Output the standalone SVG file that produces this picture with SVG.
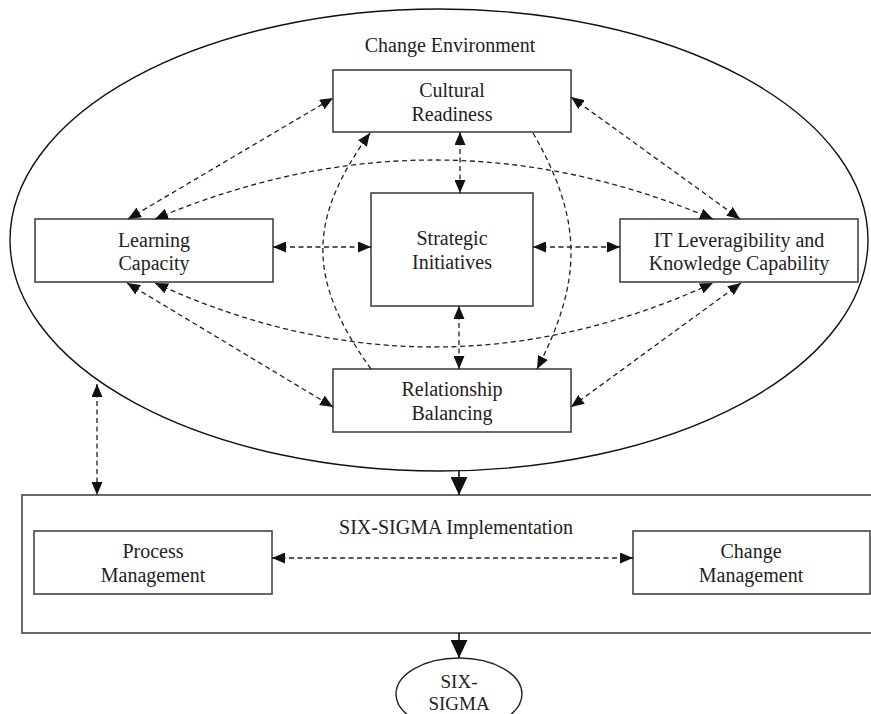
<svg xmlns="http://www.w3.org/2000/svg" width="871" height="714" viewBox="0 0 871 714">
<style>
.box{fill:#fff;stroke:#444;stroke-width:1.6}
.t{font-family:"Liberation Serif","Times New Roman",serif;font-size:20px;fill:#222;text-anchor:middle}
.ts{font-family:"Liberation Serif","Times New Roman",serif;font-size:19px;fill:#222;text-anchor:middle}
.d{fill:none;stroke:#222;stroke-width:1.3;stroke-dasharray:5 3.5}
.s{fill:none;stroke:#111;stroke-width:1.6}
</style>
<defs>
<marker id="ah" markerUnits="userSpaceOnUse" markerWidth="13" markerHeight="11" refX="13" refY="5.5" orient="auto-start-reverse"><path d="M0,0 L13,5.5 L0,11 z" fill="#111"/></marker>
<marker id="big" markerUnits="userSpaceOnUse" markerWidth="18" markerHeight="17" refX="18" refY="8.5" orient="auto"><path d="M0,0 L18,8.5 L0,17 z" fill="#111"/></marker>
</defs>
<rect width="871" height="714" fill="#fff"/>
<g id="change-environment">
<ellipse cx="439" cy="240" rx="429" ry="231" fill="none" stroke="#111" stroke-width="1.4"/>
<text class="t" x="450" y="52">Change Environment</text>
</g>
<g id="six-sigma-implementation">
<rect x="22" y="495" width="860" height="138" class="box"/>
<text class="t" x="456" y="534">SIX-SIGMA Implementation</text>
</g>
<g id="cultural-readiness">
<rect x="333" y="70" width="238" height="62" class="box"/>
<text class="t" x="452" y="97">Cultural</text>
<text class="t" x="452" y="121">Readiness</text>
</g>
<g id="learning-capacity">
<rect x="35" y="219" width="238" height="63" class="box"/>
<text class="t" x="154" y="247">Learning</text>
<text class="t" x="154" y="270">Capacity</text>
</g>
<g id="strategic-initiatives">
<rect x="371" y="193" width="162" height="113" class="box"/>
<text class="t" x="452" y="245">Strategic</text>
<text class="t" x="452" y="269">Initiatives</text>
</g>
<g id="it-leveragibility">
<rect x="620" y="219" width="238" height="63" class="box"/>
<text class="t" x="739" y="247">IT Leveragibility and</text>
<text class="t" x="739" y="270">Knowledge Capability</text>
</g>
<g id="relationship-balancing">
<rect x="333" y="369" width="238" height="63" class="box"/>
<text class="t" x="452" y="396">Relationship</text>
<text class="t" x="452" y="420">Balancing</text>
</g>
<g id="process-management">
<rect x="34" y="531" width="238" height="63" class="box"/>
<text class="t" x="153" y="558">Process</text>
<text class="t" x="153" y="582">Management</text>
</g>
<g id="change-management">
<rect x="633" y="531" width="237" height="63" class="box"/>
<text class="t" x="751" y="558">Change</text>
<text class="t" x="751" y="582">Management</text>
</g>
<g id="six-sigma">
<ellipse cx="459" cy="694" rx="63" ry="36" fill="#fff" stroke="#222" stroke-width="1.4"/>
<text class="ts" x="459" y="688">SIX-</text>
<text class="ts" x="459" y="710">SIGMA</text>
</g>
<g id="connectors">
<path class="d" d="M128,219 L333,98" marker-start="url(#ah)" marker-end="url(#ah)"/>
<path class="d" d="M155,219 Q434,101 713,219" marker-start="url(#ah)" marker-end="url(#ah)"/>
<path class="d" d="M571,97 L740,219" marker-start="url(#ah)" marker-end="url(#ah)"/>
<path class="d" d="M273,247 L371,247" marker-start="url(#ah)" marker-end="url(#ah)"/>
<path class="d" d="M533,247 L620,247" marker-start="url(#ah)" marker-end="url(#ah)"/>
<path class="d" d="M460,132 L460,193" marker-start="url(#ah)" marker-end="url(#ah)"/>
<path class="d" d="M459,306 L459,369" marker-start="url(#ah)" marker-end="url(#ah)"/>
<path class="d" d="M155,283 Q434,411 713,283" marker-start="url(#ah)" marker-end="url(#ah)"/>
<path class="d" d="M127,283 L333,407" marker-start="url(#ah)" marker-end="url(#ah)"/>
<path class="d" d="M741,283 L571,407" marker-start="url(#ah)" marker-end="url(#ah)"/>
<path class="d" d="M371,369 C307,280 307,220 370,133" marker-end="url(#ah)"/>
<path class="d" d="M533,133 C583,220 583,280 537,369" marker-end="url(#ah)"/>
<path class="d" d="M97,384 L97,495" marker-start="url(#ah)" marker-end="url(#ah)"/>
<path class="d" d="M272,558 L633,558" marker-start="url(#ah)" marker-end="url(#ah)"/>
<path class="s" d="M459,471 L459,495" marker-end="url(#big)"/>
<path class="s" d="M459,633 L459,658" marker-end="url(#big)"/>
</g>
</svg>
